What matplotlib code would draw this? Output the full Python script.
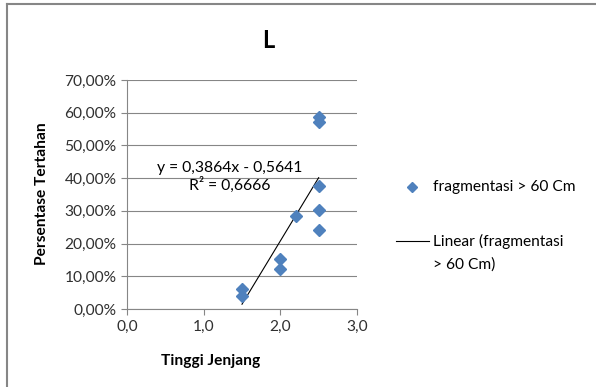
import numpy as np
import matplotlib
matplotlib.use('Agg')
import matplotlib.pyplot as plt
from matplotlib.lines import Line2D
from matplotlib.ticker import FuncFormatter

# データ
tinggi = [2.5, 2.5, 2.5, 2.5, 2.5, 2.2, 2.0, 2.0, 1.5, 1.5]
persen = [0.586, 0.572, 0.376, 0.302, 0.243, 0.285, 0.152, 0.121, 0.062, 0.039]
eq_text = 'y = 0,3864x - 0,5641\nR² = 0,6666'
y_ticks = [0.0, 0.1, 0.2, 0.3, 0.4, 0.5, 0.6, 0.7]
x_ticks = [0.0, 1.0, 2.0, 3.0]

plt.rcParams['font.family'] = ['Lato', 'DejaVu Sans']
blue = '#4F81BD'
gray = '#868686'
W, H = 596, 387

def px(x, y):
    # ピクセル座標 -> figure座標
    return x / W, 1 - y / H

fig = plt.figure(figsize=(W/100, H/100), dpi=100)
ax = fig.add_axes([127/W, 1 - 309/H, 230/W, 229/H])

# 散布図
ax.plot(tinggi, persen, 'D', color=blue, markersize=6.5, zorder=3)

# 線形近似
a, b = np.polyfit(tinggi, persen, 1)
xs = np.array([min(tinggi), max(tinggi)])
ax.plot(xs, a*xs + b, color='black', linewidth=0.8, zorder=2)
ax.text(1.335, 0.404, eq_text, ha='center', va='center', multialignment='center',
        fontsize=11.3, color='black', linespacing=1.15)

ax.set_xlim(0, 3)
ax.set_ylim(0, 0.7)
ax.set_xticks(x_ticks)
ax.set_yticks(y_ticks)
ax.xaxis.set_major_formatter(FuncFormatter(lambda v, p: f'{v:.1f}'.replace('.', ',')))
ax.yaxis.set_major_formatter(FuncFormatter(lambda v, p: f'{v*100:.2f}%'.replace('.', ',')))
ax.grid(axis='y', color=gray, linewidth=0.8)
ax.set_axisbelow(True)
for s in ['top', 'right']:
    ax.spines[s].set_visible(False)
for s in ['left', 'bottom']:
    ax.spines[s].set_color(gray)
    ax.spines[s].set_linewidth(0.8)
ax.tick_params(colors=gray, labelcolor='#303030', labelsize=11.2, length=4, width=0.8)

# 軸ラベル・タイトル
fig.text(*px(211, 361), 'Tinggi Jenjang', fontsize=11.2, fontweight='bold', ha='center', va='center')
fig.text(*px(42, 194), 'Persentase Tertahan', fontsize=11.2, fontweight='bold',
         ha='center', va='center', rotation=90)
fig.text(*px(268, 40), 'L', fontsize=17, fontweight='bold', ha='center', va='center')

# 凡例
fig.add_artist(Line2D([px(412, 0)[0]], [px(0, 187)[1]], marker='D', linestyle='none',
                      color=blue, markersize=5.5))
fig.text(*px(433, 187), 'fragmentasi > 60 Cm', fontsize=11.2, ha='left', va='center')
fig.add_artist(Line2D([px(396, 0)[0], px(429, 0)[0]], [px(0, 241)[1]] * 2,
                      color='black', linewidth=0.8))
fig.text(*px(433, 241), 'Linear (fragmentasi', fontsize=11.2, ha='left', va='center')
fig.text(*px(433, 265), '> 60 Cm)', fontsize=11.2, ha='left', va='center')

# 外枠
fig.add_artist(Line2D([7/W, 7/W], [0, 1 - 4/H], color=gray, linewidth=1.5))
fig.add_artist(Line2D([7/W, 1], [1 - 4/H, 1 - 4/H], color=gray, linewidth=1.5))

fig.savefig('out.png', dpi=100)
